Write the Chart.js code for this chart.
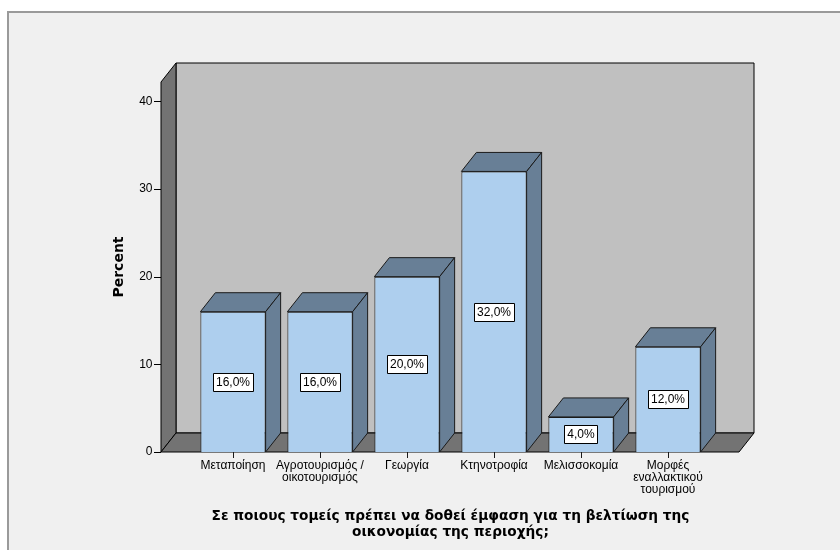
<!DOCTYPE html>
<html>
<head>
<meta charset="utf-8">
<script src="https://cdn.jsdelivr.net/npm/chart.js@4.4.0/dist/chart.umd.min.js"></script>
<style>
  html, body { margin: 0; padding: 0; background: #ffffff; }
</style>
</head>
<body>
<canvas id="grafico" width="840" height="550"></canvas>
<script>
// Τομείς οικονομίας - ποσοστά απαντήσεων
const categorias = [
  "Μεταποίηση",
  ["Αγροτουρισμός /", "οικοτουρισμός"],
  "Γεωργία",
  "Κτηνοτροφία",
  "Μελισσοκομία",
  ["Μορφές", "εναλλακτικού", "τουρισμού"]
];
const porcentajes = [16, 16, 20, 32, 4, 12];
const ticksY = [0, 10, 20, 30, 40];
const tituloX = ["Σε ποιους τομείς πρέπει να δοθεί έμφαση για τη βελτίωση της", "οικονομίας της περιοχής;"];
const tituloY = "Percent";

const FUENTE = "'Liberation Sans', Arial, sans-serif";
const FUENTE_TIT = "'DejaVu Sans', Verdana, sans-serif";
const DX = 15, DY = -19;

const poly = (ctx, pts, fill) => {
  ctx.beginPath();
  ctx.moveTo(pts[0][0], pts[0][1]);
  for (let i = 1; i < pts.length; i++) ctx.lineTo(pts[i][0], pts[i][1]);
  ctx.closePath();
  ctx.fillStyle = fill;
  ctx.fill();
  ctx.stroke();
};

const caja3d = {
  id: 'caja3d',
  beforeDraw(chart) {
    const {ctx, chartArea: a, scales: {y}} = chart;
    ctx.save();
    ctx.fillStyle = '#ffffff';
    ctx.fillRect(0, 0, 840, 550);
    ctx.fillStyle = '#f0f0f0';
    ctx.fillRect(8, 12, 840, 550);
    ctx.strokeStyle = '#9a9a9a';
    ctx.lineWidth = 2;
    ctx.strokeRect(8, 12, 850, 560);

    const fl = a.left - 28.5, fr = a.right + 27.5;
    const top = y.getPixelForValue(y.max), base = y.getPixelForValue(0);
    ctx.strokeStyle = '#000';
    ctx.lineWidth = 1;
    ctx.lineJoin = 'round';
    poly(ctx, [[fl + DX, top + DY], [fr + DX, top + DY], [fr + DX, base + DY], [fl + DX, base + DY]], '#c0c0c0');
    poly(ctx, [[fl, top], [fl + DX, top + DY], [fl + DX, base + DY], [fl, base]], '#737373');
    poly(ctx, [[fl, base], [fl + DX, base + DY], [fr + DX, base + DY], [fr, base]], '#737373');

    // marcas del eje y
    ctx.beginPath();
    ticksY.forEach(v => {
      const py = Math.round(y.getPixelForValue(v)) + 0.5;
      ctx.moveTo(fl - 7, py);
      ctx.lineTo(fl, py);
    });
    ctx.stroke();
    ctx.restore();
  },
  afterDatasetsDraw(chart) {
    const {ctx, scales: {x}} = chart;
    const meta = chart.getDatasetMeta(0);
    ctx.save();
    ctx.strokeStyle = '#1a1a1a';
    ctx.lineWidth = 1;
    ctx.lineJoin = 'round';
    meta.data.forEach((bar) => {
      const x0 = bar.x - bar.width / 2, x1 = bar.x + bar.width / 2;
      poly(ctx, [[x0, bar.y], [x0 + DX, bar.y + DY], [x1 + DX, bar.y + DY], [x1, bar.y]], '#687f96');
      poly(ctx, [[x1, bar.y], [x1 + DX, bar.y + DY], [x1 + DX, bar.base + DY], [x1, bar.base]], '#687f96');
    });

    // marcas del eje x
    ctx.beginPath();
    categorias.forEach((c, i) => {
      const px = Math.round(x.getPixelForValue(i)) + 0.5;
      ctx.moveTo(px, meta.data[0].base);
      ctx.lineTo(px, meta.data[0].base + 6);
    });
    ctx.stroke();

    // etiquetas de valor
    ctx.font = '12px ' + FUENTE;
    ctx.textAlign = 'center';
    ctx.textBaseline = 'middle';
    meta.data.forEach((bar, i) => {
      const txt = porcentajes[i].toFixed(1).replace('.', ',') + '%';
      const w = ctx.measureText(txt).width + 6;
      const cy = (bar.y + bar.base) / 2;
      const bx = Math.round(bar.x - w / 2) + 0.5, by = Math.round(cy - 9) + 0.5;
      ctx.fillStyle = '#ffffff';
      ctx.fillRect(bx, by, Math.round(w), 18);
      ctx.strokeStyle = '#000';
      ctx.strokeRect(bx, by, Math.round(w), 18);
      ctx.fillStyle = '#000';
      ctx.fillText(txt, bar.x, cy + 0.5);
    });
    ctx.restore();
  }
};

new Chart(document.getElementById('grafico'), {
  type: 'bar',
  data: {
    labels: categorias,
    datasets: [{
      data: porcentajes,
      backgroundColor: '#aecfee',
      borderColor: '#1a1a1a',
      borderWidth: 1,
      barPercentage: 0.75,
      categoryPercentage: 1
    }]
  },
  options: {
    responsive: false,
    animation: false,
    devicePixelRatio: 1,
    layout: { padding: { top: 82, right: 128.5, bottom: 0, left: 0 } },
    plugins: { legend: { display: false }, tooltip: { enabled: false } },
    scales: {
      x: {
        grid: { display: false, drawTicks: false },
        border: { display: false },
        ticks: {
          color: '#000', padding: 8, maxRotation: 0, minRotation: 0, autoSkip: false,
          font: { family: FUENTE, size: 12, lineHeight: 1.0 }
        },
        title: {
          display: true, text: tituloX, color: '#000',
          font: { family: FUENTE_TIT, size: 13.7, weight: 'bold', lineHeight: 1.1 },
          padding: { top: 0, bottom: 10.5 }
        },
        afterFit(s) { s.height = 98; }
      },
      y: {
        min: 0, max: 42.2,
        grid: { display: false, drawTicks: false },
        border: { display: false },
        ticks: {
          stepSize: 10, includeBounds: false, color: '#000', padding: 37,
          font: { family: FUENTE, size: 12 }
        },
        title: {
          display: true, text: tituloY, color: '#000',
          font: { family: FUENTE_TIT, size: 14, weight: 'bold' },
          padding: { top: 111, bottom: 0 }
        },
        afterFit(s) { s.width = 189.5; }
      }
    }
  },
  plugins: [caja3d]
});
</script>
</body>
</html>
